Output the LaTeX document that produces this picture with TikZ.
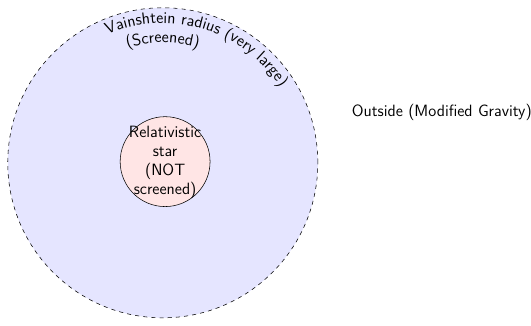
\documentclass[tikz,border=0pt]{standalone}
\usetikzlibrary{decorations.text}
\newcommand{\myfont}{\sffamily\fontsize{12}{14}\selectfont}
\begin{document}
\begin{tikzpicture}[font=\myfont,
  region/.style={draw, dashed, fill=blue!10},
  starbox/.style={circle, draw, fill=red!10, minimum size=66pt, inner sep=0pt}]
\useasboundingbox (-4.2,-4.2) rectangle (9.5,4.2);
\draw[region] (0,0) circle (4cm);
\coordinate (c) at (0,0);
\path[decorate, decoration={text along path, text align=center,
  text={|\myfont|Vainshtein radius (very large)}}]
  (c) ++(153:3.6cm) arc[start angle=153, end angle=-7, radius=3.6cm];
\path[decorate, decoration={text along path, text align=center,
  text={|\myfont|(Screened)}}]
  (c) ++(130:3.1cm) arc[start angle=130, end angle=50, radius=3.1cm];
\node[starbox] (star) at (0.06,0.03) {};
\node[align=center, inner sep=0pt, yshift=-0.5pt] (startext) at (star.center) {Relativistic\\star\\(NOT\\screened)};
\node (outside) at (7.2,1.3) {Outside (Modified Gravity)};
\end{tikzpicture}
\end{document}
